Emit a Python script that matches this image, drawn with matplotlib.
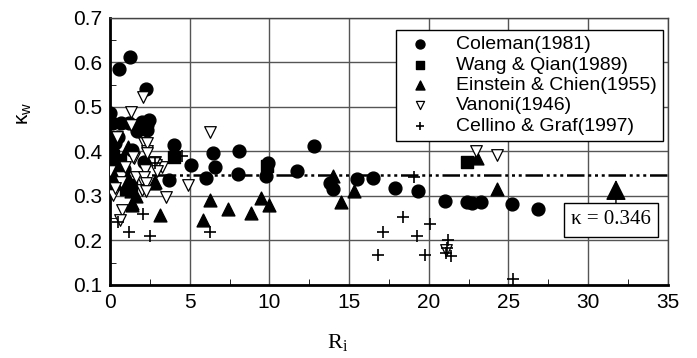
import numpy as np
import matplotlib
matplotlib.use('Agg')
import matplotlib.pyplot as plt
from matplotlib.ticker import MultipleLocator

# Coleman(1981)
cole_x = [0.0, 0.1, 0.56, 1.25, 2.24, 0.67, 1.2, 1.7, 2.34, 2.45, 2.0, 2.3, 0.5, 1.4, 2.13,
          4.0, 5.1, 6.0, 3.7, 6.44, 6.6, 8.1, 8.05, 9.8, 9.9, 11.75, 12.8, 13.8, 13.97,
          15.5, 16.5, 17.9, 19.3, 21.0, 22.4, 22.7, 23.25, 25.2, 26.83, 0.3, 0.9]
cole_y = [0.486, 0.463, 0.586, 0.613, 0.541, 0.463, 0.463, 0.445, 0.46, 0.471, 0.467, 0.448, 0.433, 0.403, 0.377,
          0.415, 0.37, 0.34, 0.336, 0.397, 0.364, 0.402, 0.349, 0.345, 0.375, 0.355, 0.412, 0.33, 0.315,
          0.337, 0.34, 0.317, 0.312, 0.289, 0.287, 0.284, 0.286, 0.281, 0.271, 0.42, 0.36]

# Wang & Qian(1989)
wang_x = [0.05, 0.05, 0.05, 0.15, 0.15, 0.2, 0.25, 0.1, 0.3, 1.0, 1.3, 4.0, 9.85, 22.4, 0.6, 0.2]
wang_y = [0.433, 0.403, 0.388, 0.37, 0.355, 0.34, 0.345, 0.415, 0.33, 0.315, 0.325, 0.388, 0.368, 0.377, 0.38, 0.39]

# Einstein & Chien(1955)
ein_x = [1.1, 1.2, 1.3, 1.4, 1.0, 0.8, 2.8, 2.76, 1.36, 3.1, 5.85, 6.27, 7.42, 8.83, 9.45,
         10.0, 14.0, 14.47, 15.3, 23.0, 24.3, 0.5, 1.6]
ein_y = [0.41, 0.328, 0.31, 0.28, 0.35, 0.33, 0.332, 0.328, 0.284, 0.257, 0.246, 0.29, 0.27, 0.261, 0.295,
         0.28, 0.345, 0.287, 0.31, 0.385, 0.315, 0.36, 0.30]

# Vanoni(1946)
van_x = [1.3, 2.05, 1.3, 0.46, 2.13, 2.3, 2.3, 2.3, 2.8, 3.24, 2.9, 2.2, 2.0, 2.0, 3.5, 4.9,
         0.0, 0.15, 0.67, 0.67, 1.5, 1.6, 2.13, 2.24, 2.24, 2.76, 2.97, 0.73, 0.63, 0.3,
         6.27, 22.96, 24.3, 21.1, 1.45, 0.94]
van_y = [0.489, 0.522, 0.46, 0.433, 0.418, 0.4, 0.418, 0.396, 0.377, 0.366, 0.37, 0.358, 0.336, 0.313, 0.297, 0.325,
         0.355, 0.302, 0.343, 0.332, 0.385, 0.343, 0.343, 0.328, 0.31, 0.373, 0.355, 0.268, 0.246, 0.318,
         0.444, 0.40, 0.392, 0.178, 0.388, 0.366]

# Cellino & Graf(1997)
cel_x = [0.5, 1.2, 2.05, 2.5, 2.8, 4.5, 6.3, 16.8, 17.15, 18.4, 19.07, 19.24, 19.76, 20.1,
         21.2, 21.16, 21.08, 21.4, 25.26]
cel_y = [0.242, 0.22, 0.26, 0.209, 0.374, 0.39, 0.22, 0.167, 0.22, 0.252, 0.342, 0.211, 0.167, 0.237,
         0.2, 0.182, 0.171, 0.166, 0.113]

kappa = 0.346

plt.rcParams['font.family'] = ['Liberation Sans', 'DejaVu Sans']

fig = plt.figure(figsize=(6.97, 3.58), dpi=100)
ax = fig.add_axes([0.158, 0.204, 0.80, 0.746])

ax.scatter(cole_x, cole_y, s=85, marker='o', c='k', label='Coleman(1981)', zorder=3)
ax.scatter(wang_x, wang_y, s=80, marker='s', c='k', label='Wang & Qian(1989)', zorder=3)
ax.scatter(ein_x, ein_y, s=85, marker='^', c='k', label='Einstein & Chien(1955)', zorder=3)
ax.scatter(van_x, van_y, s=70, marker='v', facecolors='white', edgecolors='k', linewidths=0.9,
           label='Vanoni(1946)', zorder=3)
ax.scatter(cel_x, cel_y, s=85, marker='+', c='k', linewidths=1.2, label='Cellino & Graf(1997)', zorder=3)

ax.axhline(kappa, color='k', lw=1.8, dashes=(7, 1.5, 1.2, 1.5, 1.2, 1.5, 1.2, 1.5), zorder=2)

ax.set_xlim(0, 35)
ax.set_ylim(0.1, 0.7)
ax.xaxis.set_major_locator(MultipleLocator(5))
ax.xaxis.set_minor_locator(MultipleLocator(2.5))
ax.yaxis.set_major_locator(MultipleLocator(0.1))
ax.yaxis.set_minor_locator(MultipleLocator(0.05))
ax.tick_params(which='both', direction='in', labelsize=15, colors='k')
ax.tick_params(which='major', length=0, pad=6)
ax.tick_params(which='minor', length=4)
ax.grid(True, which='major', color='#555555', lw=1.0)
ax.set_axisbelow(True)

for s in ['left', 'bottom']:
    ax.spines[s].set_linewidth(2)
for s in ['top', 'right']:
    ax.spines[s].set_linewidth(1.0)
    ax.spines[s].set_color('#444444')

leg = ax.legend(loc='upper right', bbox_to_anchor=(0.991, 0.955), fontsize=14, frameon=True,
                fancybox=False, edgecolor='k', framealpha=1, borderpad=0.3, labelspacing=0.14,
                handletextpad=0.9, handlelength=1.9, markerscale=0.7, scatterpoints=1,
                borderaxespad=0)
leg.get_frame().set_linewidth(1.0)

ax.annotate('', xy=(31.75, 0.336), xytext=(31.75, 0.276),
            arrowprops=dict(arrowstyle='-|>', color='k', lw=1.0, mutation_scale=32,
                            shrinkA=0, shrinkB=0))
ax.text(31.43, 0.246, '\u03ba = 0.346', family='Liberation Serif', fontsize=15,
        ha='center', va='center',
        bbox=dict(boxstyle='square,pad=0.35', fc='white', ec='k', lw=1.0))

fig.text(338 / 697, 1 - 343 / 358, r'R$_{\mathregular{i}}$', family='Liberation Serif',
         fontsize=16, ha='center', va='center')
fig.text(25 / 697, 1 - 113 / 358, '\u03ba$_\\mathregular{w}$', fontsize=15, rotation=90,
         ha='center', va='center')

fig.savefig('out.png', dpi=100)
